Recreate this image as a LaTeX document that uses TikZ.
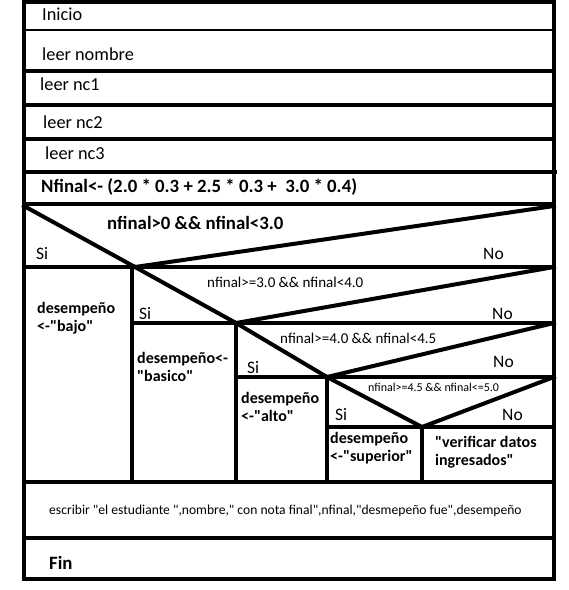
\documentclass[tikz,border=0pt]{standalone}
\usepackage{fontspec}
\setmainfont{Carlito}[Ligatures=TeXOff]
\begin{document}
\begin{tikzpicture}[x=1pt,y=-1pt,
  ln/.style={line width=4pt,line cap=rect},
  lnthin/.style={line width=2pt},
  txt/.style={anchor=base west,inner sep=0pt,font=\fontsize{18.3}{20}\selectfont},
  btxt/.style={anchor=base west,inner sep=0pt,font=\fontsize{18.8}{20}\selectfont\bfseries},
  sino/.style={anchor=base west,inner sep=0pt,font=\fontsize{17.5}{20}\selectfont},
  condtxt/.style={anchor=base west,inner sep=0pt,font=\fontsize{15}{16}\selectfont},
  casetxt/.style={anchor=base west,inner sep=0pt,align=left,font=\fontsize{16}{18}\selectfont\bfseries},
  ]
\useasboundingbox (0,0) rectangle (569,590);
% key coordinates
\coordinate (TL) at (24,2);
\coordinate (BR) at (554,579);
\coordinate (V1) at (135,267);
\coordinate (V2) at (236,323);
\coordinate (V3) at (327,377);
\coordinate (V4) at (422,427);
% outer frame
\draw[ln] (TL) rectangle (BR);
% sequence rows
\draw[lnthin] (24,30) -- (554,30);
\draw[ln] (24,71) -- (554,71);
\draw[ln] (24,105) -- (554,105);
\draw[ln] (24,139) -- (554,139);
\draw[ln] (24,172) -- (555,172);
\draw[ln] (24,204) -- (554,204);
\draw[ln] (24,267) -- (554,267);
% decision 1
\draw[ln] (24,206) -- (V1) -- (554,206);
% decision 2
\draw[ln] (132,267) -- (132,482);
\draw[ln] (V1) -- (V2) -- (554,267);
\draw[ln] (132,323) -- (554,323);
% decision 3
\draw[ln] (236,323) -- (236,482);
\draw[ln] (V2) -- (V3) -- (554,323);
\draw[ln] (236,377) -- (554,377);
% decision 4
\draw[ln] (327,377) -- (327,482);
\draw[ln] (V3) -- (V4) -- (554,377);
\draw[ln] (327,427) -- (554,427);
\draw[ln] (422,427) -- (422,482);
% bottom rows
\draw[ln] (24,482) -- (554,482);
\draw[ln] (24,538) -- (554,538);
% texts
\node[txt] (inicio) at (42,20) {Inicio};
\node[txt] (nombre) at (42,60) {leer nombre};
\node[txt] (nc1) at (40,90) {leer nc1};
\node[txt] (nc2) at (43,128) {leer nc2};
\node[txt] (nc3) at (45,159) {leer nc3};
\node[btxt] (nfinal) at (41,192) {Nfinal<- (2.0 * 0.3 + 2.5 * 0.3 + \ 3.0 * 0.4)};
\node[btxt] (c1) at (107,229) {nfinal>0 \&\& nfinal<3.0};
\node[sino] (si1) at (36,259) {Si};
\node[sino] (no1) at (483,259) {No};
\node[condtxt] (c2) at (207,287) {nfinal>=3.0 \&\& nfinal<4.0};
\node[sino] (si2) at (139,319) {Si};
\node[sino] (no2) at (492,319) {No};
\node[condtxt] (c3) at (280,343) {nfinal>=4.0 \&\& nfinal<4.5};
\node[sino] (si3) at (247,373) {Si};
\node[sino] (no3) at (493,367) {No};
\node[anchor=base west,inner sep=0pt,font=\fontsize{12}{14}\selectfont] (c4) at (368,391) {nfinal>=4.5 \&\& nfinal<=5.0};
\node[sino] (si4) at (335,420) {Si};
\node[sino] (no4) at (502,420) {No};
\node[casetxt] (bajo) at (37,331) {desempeño\\<-"bajo"};
\node[casetxt] (basico) at (137,381) {desempeño<-\\"basico"};
\node[casetxt] (alto) at (241,421) {desempeño\\<-"alto"};
\node[casetxt] (superior) at (330,461) {desempeño\\<-"superior"};
\node[casetxt] (verif) at (435,465) {"verificar datos\\ingresados"};
\node[anchor=base west,inner sep=0pt,font=\fontsize{13.6}{15}\selectfont] (escribir) at (49,514) {escribir "el estudiante ",nombre," con nota final",nfinal,"desmepeño fue",desempeño};
\node[btxt] (fin) at (49,569) {Fin};
\end{tikzpicture}
\end{document}
